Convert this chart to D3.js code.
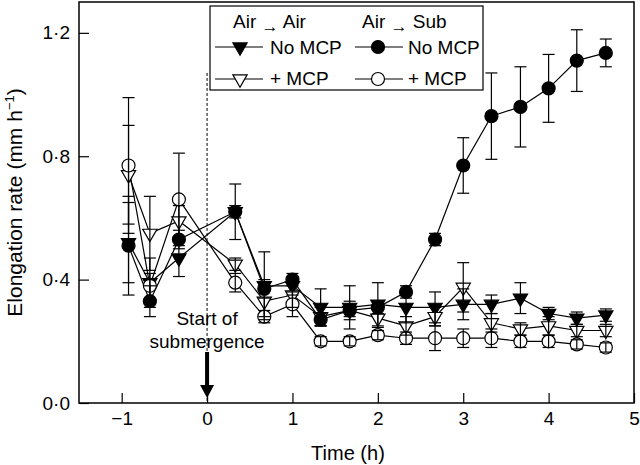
<!DOCTYPE html>
<html>
<head>
<meta charset="utf-8">
<title>Elongation rate</title>
<script src="https://cdn.jsdelivr.net/npm/d3@7"></script>
<style>
  body { margin: 0; background: #fff; }
  svg { font-family: "Liberation Sans", Arial, Helvetica, sans-serif; }
</style>
</head>
<body>
<div id="chart"></div>
<script>
// ---- data ----
const times = [-0.92, -0.67, -0.33, 0.33, 0.67, 1.0, 1.33, 1.67, 2.0, 2.33, 2.67, 3.0, 3.33, 3.67, 4.0, 4.33, 4.67];

// Air -> Air, no MCP (filled triangle)
const airNoMcp    = [0.52, 0.39, 0.47, 0.62, 0.38, 0.38, 0.31, 0.31, 0.32, 0.31, 0.31, 0.32, 0.32, 0.34, 0.29, 0.275, 0.285];
const airNoMcpErr = [0.13, 0.08, 0.06, 0.09, 0.11, 0.03, 0.06, 0.07, 0.07, 0.05, 0.05, 0.05, 0.03, 0.05, 0.02, 0.02, 0.02];
// Air -> Air, + MCP (open triangle)
const airMcp      = [0.74, 0.55, 0.59, 0.45, 0.33, 0.35, 0.28, 0.30, 0.275, 0.25, 0.28, 0.375, 0.26, 0.24, 0.25, 0.235, 0.235];
const airMcpErr   = [0.16, 0.12, 0.05, 0.02, 0.05, 0.04, 0.03, 0.03, 0.03, 0.03, 0.03, 0.08, 0.03, 0.02, 0.03, 0.02, 0.02];
// Air -> Sub, no MCP (filled circle)
const subNoMcp    = [0.51, 0.33, 0.53, 0.62, 0.37, 0.40, 0.27, 0.30, 0.31, 0.36, 0.53, 0.77, 0.93, 0.96, 1.02, 1.11, 1.135];
const subNoMcpErr = [0.16, 0.05, 0.03, 0.02, 0.03, 0.02, 0.02, 0.02, 0.02, 0.02, 0.02, 0.09, 0.14, 0.13, 0.11, 0.10, 0.045];
// Air -> Sub, + MCP (open circle)
const subMcp      = [0.77, 0.38, 0.66, 0.39, 0.28, 0.32, 0.20, 0.20, 0.22, 0.21, 0.21, 0.21, 0.21, 0.20, 0.20, 0.19, 0.18];
const subMcpErr   = [0.22, 0.04, 0.15, 0.03, 0.02, 0.04, 0.015, 0.015, 0.015, 0.02, 0.04, 0.03, 0.03, 0.02, 0.02, 0.015, 0.015];

const xTicks = [-1, 0, 1, 2, 3, 4, 5];
const yTicks = [0, 0.4, 0.8, 1.2];

const legendHeaders = ["Air", "Air", "Air", "Sub"];
const legendLabels = ["No MCP", "+ MCP", "No MCP", "+ MCP"];

// ---- layout ----
const width = 640, height = 465;
const margin = {top: 2, right: 6, bottom: 62, left: 79};
const fontSize = 19;

const svg = d3.select("#chart").append("svg")
    .attr("width", width)
    .attr("height", height);

const x = d3.scaleLinear().domain([-1.5, 5]).range([margin.left, width - margin.right]);
const y = d3.scaleLinear().domain([0, 1.3]).range([height - margin.bottom, margin.top]);

const fmt = d => d3.format(".1f")(d).replace(".", "\u00b7");

// axes with inward ticks
svg.append("g")
    .attr("transform", `translate(0,${y(0)})`)
    .call(d3.axisBottom(x).tickValues(xTicks).tickSize(-10).tickPadding(9).tickFormat(d3.format("d")))
    .call(g => g.select(".domain").remove())
    .call(g => g.selectAll("text").attr("font-size", fontSize).attr("fill", "#000").attr("font-family", null))
    .call(g => g.selectAll("line").attr("stroke", "#000").attr("stroke-width", 1.2));

svg.append("g")
    .attr("transform", `translate(${x(-1.5)},0)`)
    .call(d3.axisLeft(y).tickValues(yTicks).tickSize(-10).tickPadding(9).tickFormat(fmt))
    .call(g => g.select(".domain").remove())
    .call(g => g.selectAll("text").attr("font-size", fontSize).attr("fill", "#000").attr("font-family", null))
    .call(g => g.selectAll("line").attr("stroke", "#000").attr("stroke-width", 1.2));

// frame
svg.append("rect")
    .attr("x", x(-1.5)).attr("y", y(1.3))
    .attr("width", x(5) - x(-1.5)).attr("height", y(0) - y(1.3))
    .attr("fill", "none").attr("stroke", "#000").attr("stroke-width", 1.5);

// axis titles
svg.append("text")
    .attr("x", x(1.65)).attr("y", 460)
    .attr("text-anchor", "middle").attr("font-size", 20)
    .text("Time (h)");

const yTitle = svg.append("text")
    .attr("transform", `translate(22,${(y(0) + y(1.3)) / 2}) rotate(-90)`)
    .attr("text-anchor", "middle").attr("font-size", 21);
yTitle.append("tspan").text("Elongation rate (mm h");
yTitle.append("tspan").attr("font-size", 13).attr("dy", -8).text("\u22121");
yTitle.append("tspan").attr("dy", 8).text(")");

// start of submergence marker
svg.append("line")
    .attr("x1", x(0)).attr("x2", x(0))
    .attr("y1", y(1.07)).attr("y2", y(0))
    .attr("stroke", "#000").attr("stroke-width", 1).attr("stroke-dasharray", "3,2");

const ax = x(0), aTop = y(0.165), aTip = y(0.016);
svg.append("path")
    .attr("d", `M${ax - 2},${aTop}L${ax + 2},${aTop}L${ax + 2},${aTip - 13}L${ax + 7},${aTip - 13}L${ax},${aTip}L${ax - 7},${aTip - 13}L${ax - 2},${aTip - 13}Z`)
    .attr("fill", "#000");

svg.append("text")
    .attr("x", x(0)).attr("y", y(0.252))
    .attr("text-anchor", "middle").attr("font-size", fontSize)
    .text("Start of");
svg.append("text")
    .attr("x", x(0)).attr("y", y(0.178))
    .attr("text-anchor", "middle").attr("font-size", fontSize)
    .text("submergence");

// series
const series = [
  {values: airNoMcp, errors: airNoMcpErr, shape: "tri", fill: "#000"},
  {values: airMcp, errors: airMcpErr, shape: "tri", fill: "#fff"},
  {values: subNoMcp, errors: subNoMcpErr, shape: "circ", fill: "#000"},
  {values: subMcp, errors: subMcpErr, shape: "circ", fill: "#fff"}
];

const triPath = d3.symbol().type(d3.symbolTriangle).size(88)();
const line = d3.line().x(d => x(d.t)).y(d => y(d.v));

function drawMarker(g, shape, fill, cx, cy) {
  if (shape === "tri") {
    g.append("path")
      .attr("d", triPath)
      .attr("transform", `translate(${cx},${cy}) rotate(180)`)
      .attr("fill", fill).attr("stroke", "#000").attr("stroke-width", 1.2);
  } else {
    g.append("circle")
      .attr("cx", cx).attr("cy", cy).attr("r", 6.5)
      .attr("fill", fill).attr("stroke", "#000").attr("stroke-width", 1.2);
  }
}

const pts = series.map(s => times.map((t, i) => ({t, v: s.values[i], e: s.errors[i]})));

const gLines = svg.append("g");
const gMarks = svg.append("g");
const gErr = svg.append("g");

series.forEach((s, k) => {
  gLines.append("path")
    .datum(pts[k])
    .attr("d", line)
    .attr("fill", "none").attr("stroke", "#000").attr("stroke-width", 1.2);

  pts[k].forEach(p => drawMarker(gMarks, s.shape, s.fill, x(p.t), y(p.v)));

  pts[k].forEach(p => {
    const cx = x(p.t), yHi = y(p.v + p.e), yLo = y(p.v - p.e);
    gErr.append("line").attr("x1", cx).attr("x2", cx).attr("y1", yHi).attr("y2", yLo)
      .attr("stroke", "#000").attr("stroke-width", 1.2);
    [yHi, yLo].forEach(yy => gErr.append("line")
      .attr("x1", cx - 6).attr("x2", cx + 6).attr("y1", yy).attr("y2", yy)
      .attr("stroke", "#000").attr("stroke-width", 1.2));
  });
});

// legend
const lg = svg.append("g");
lg.append("rect")
  .attr("x", 210).attr("y", 6).attr("width", 273).attr("height", 84)
  .attr("fill", "#fff").attr("stroke", "#000").attr("stroke-width", 1.2);

const cols = [{hx: 233, lx: 215, mx: 240, tx: 270}, {hx: 362, lx: 355, mx: 378, tx: 408}];
cols.forEach((c, ci) => {
  const h = lg.append("text").attr("x", c.hx).attr("y", 28).attr("font-size", fontSize);
  h.append("tspan").text(legendHeaders[ci * 2] + " ");
  h.append("tspan").attr("font-size", 17).attr("dy", 4).text("\u2192");
  h.append("tspan").attr("dy", -4).text(" " + legendHeaders[ci * 2 + 1]);

  [0, 1].forEach(r => {
    const s = series[ci * 2 + r];
    const yy = r === 0 ? 47 : 79;
    lg.append("line").attr("x1", c.lx).attr("x2", c.lx + 48).attr("y1", yy).attr("y2", yy)
      .attr("stroke", "#000").attr("stroke-width", 1.2);
    drawMarker(lg, s.shape, s.fill, c.mx, yy);
    lg.append("text").attr("x", c.tx).attr("y", r === 0 ? 54 : 85)
      .attr("font-size", fontSize).text(legendLabels[ci * 2 + r]);
  });
});
</script>
</body>
</html>
